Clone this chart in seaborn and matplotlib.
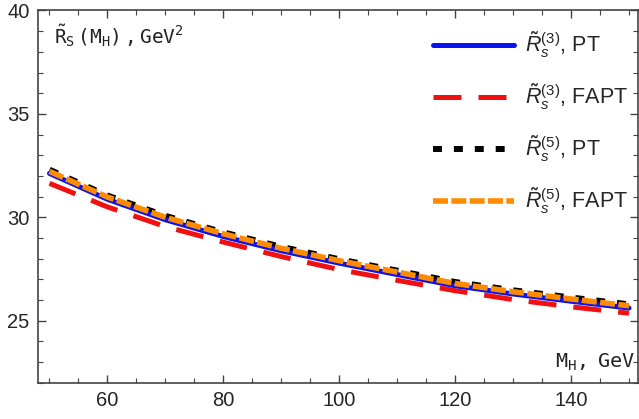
import matplotlib
matplotlib.use("Agg")
import matplotlib.pyplot as plt
from matplotlib.ticker import MultipleLocator
import seaborn as sns
import pandas as pd

# Data
mh = [50, 60, 70, 80, 90, 100, 110, 120, 130, 140, 150]
r3_pt = [32.12, 30.87, 29.88, 29.07, 28.38, 27.78, 27.23, 26.69, 26.29, 25.94, 25.61]
r3_fapt = [31.64, 30.50, 29.55, 28.80, 28.10, 27.47, 26.95, 26.45, 26.02, 25.67, 25.36]
r5_pt = [32.30, 31.05, 30.07, 29.27, 28.57, 27.97, 27.42, 26.87, 26.47, 26.12, 25.79]
r5_fapt = [32.22, 30.98, 30.00, 29.20, 28.50, 27.90, 27.35, 26.80, 26.40, 26.05, 25.72]

labels = [r"$\tilde{R}_s^{\mathsf{(3)}}$, PT", r"$\tilde{R}_s^{\mathsf{(3)}}$, FAPT",
          r"$\tilde{R}_s^{\mathsf{(5)}}$, PT", r"$\tilde{R}_s^{\mathsf{(5)}}$, FAPT"]
xticks = [60, 80, 100, 120, 140]
yticks = [25, 30, 35, 40]

sns.set_style("ticks")
plt.rcParams['font.family'] = ['Liberation Sans', 'DejaVu Sans']
plt.rcParams['mathtext.fontset'] = 'custom'
plt.rcParams['mathtext.it'] = 'Liberation Sans:italic'
plt.rcParams['mathtext.sf'] = 'Liberation Sans'
plt.rcParams['mathtext.rm'] = 'DejaVu Sans Mono'

fig = plt.figure(figsize=(6.39, 4.19), dpi=100)
ax = fig.add_axes([0.0593, 0.0866, 0.9387, 0.8884])

df = pd.DataFrame({"mh": mh, "r3pt": r3_pt, "r3fapt": r3_fapt, "r5pt": r5_pt, "r5fapt": r5_fapt})

specs = [
    ("r3pt", labels[0], "#0a14f0", 3.6, None, 3),
    ("r3fapt", labels[1], "#f01010", 3.6, (5.6, 3.4), 1),
    ("r5pt", labels[2], "#000000", 4.3, (1.5, 2.0), 2),
    ("r5fapt", labels[3], "#ff8c00", 4.0, (2.7, 0.6), 4),
]
for col, lab, color, lw, dash, z in specs:
    sns.lineplot(data=df, x="mh", y=col, ax=ax, color=color, linewidth=lw, label=lab, zorder=z)
    ln = ax.lines[-1]
    if dash is not None:
        ln.set_dashes(dash)
        ln.set_dash_capstyle('butt')

handles, labs = ax.get_legend_handles_labels()
leg = ax.legend(handles, labs, loc='upper right', bbox_to_anchor=(1.005, 0.984), frameon=False,
                fontsize=15.5, handlelength=3.75, handletextpad=0.5, labelspacing=0.98,
                borderaxespad=0.2)

ax.set_xlim(48, 151.5)
ax.set_ylim(22, 40)
ax.set_xticks(xticks)
ax.set_yticks(yticks)
ax.xaxis.set_minor_locator(MultipleLocator(5))
ax.yaxis.set_minor_locator(MultipleLocator(1))
ax.tick_params(which='both', direction='in', top=True, right=True, labeltop=False, labelright=False,
               color='#444444', labelsize=14.5, pad=6)
ax.tick_params(which='major', length=6, width=1)
ax.tick_params(which='minor', length=3.5, width=0.8)
for s in ax.spines.values():
    s.set_color('#444444')
    s.set_linewidth(1.2)
ax.set_xlabel("")
ax.set_ylabel("")

ax.text(0.027, 0.968, r"$\mathrm{\tilde{R}_S\,(M_H)\,,GeV^2}$", transform=ax.transAxes,
        ha='left', va='top', fontsize=14, color='#222222')
ax.text(0.995, 0.025, r"$\mathrm{M_H,\ GeV}$", transform=ax.transAxes,
        ha='right', va='bottom', fontsize=14.5, color='#222222')

fig.savefig("out.png", dpi=100)
